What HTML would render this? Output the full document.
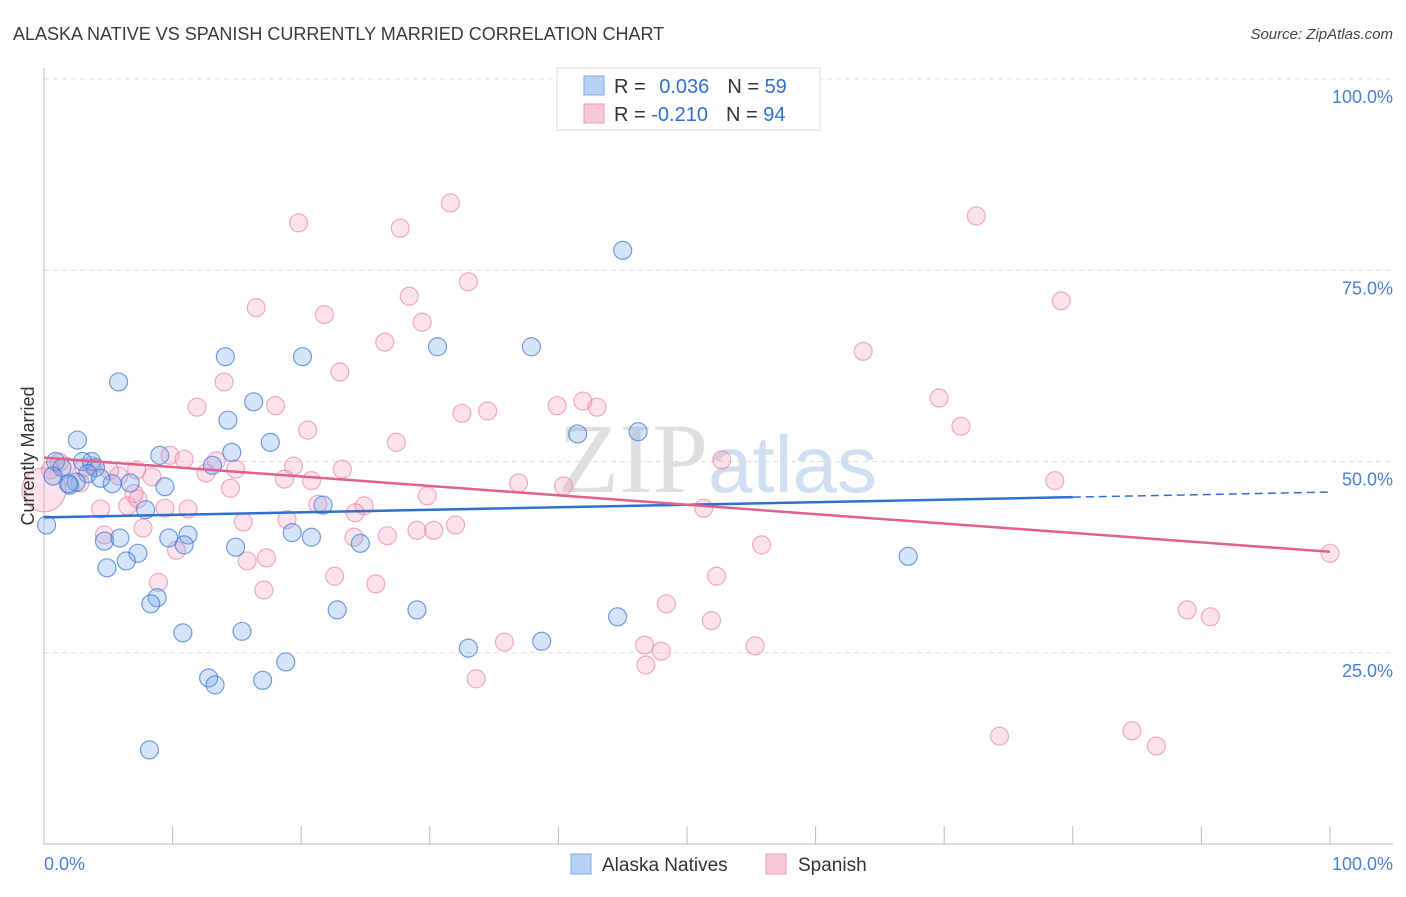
<!DOCTYPE html>
<html><head><meta charset="utf-8"><style>
body{margin:0;background:#fff;font-family:"Liberation Sans",sans-serif}
</style></head><body>
<svg id="c" width="1406" height="892" xmlns="http://www.w3.org/2000/svg" font-family="Liberation Sans, sans-serif">
<text x="13" y="40" font-size="18" fill="#3a3a3a">ALASKA NATIVE VS SPANISH CURRENTLY MARRIED CORRELATION CHART</text>
<text x="1393" y="39" font-size="15" fill="#444" font-style="italic" text-anchor="end">Source: ZipAtlas.com</text>
<text x="558" y="492" font-size="100" fill="#d8d8d8" font-family="Liberation Serif, serif" opacity="0.8">ZIP<tspan fill="#c5d8f0" font-family="Liberation Sans, sans-serif" font-size="80">atlas</tspan></text>
<g id="grid"></g>
<g id="axes"></g>
<g id="pts"></g>
<g id="lines"></g>
<text transform="translate(34,456) rotate(-90)" font-size="18" fill="#333" text-anchor="middle">Currently Married</text>
<g>
<rect x="557" y="68" width="263" height="62" fill="#fff" stroke="#ddd"/>
<rect x="584" y="76" width="20" height="19" fill="#b8d0f4" stroke="#7fa8e6"/>
<rect x="584" y="104" width="20" height="19" fill="#f9c8d6" stroke="#ee9ab3"/>
<text x="614" y="93" font-size="20" fill="#333">R = <tspan fill="#2f6fd0" dx="8">0.036</tspan><tspan dx="18" fill="#333">N = </tspan><tspan fill="#2f6fd0">59</tspan></text>
<text x="614" y="121" font-size="20" fill="#333">R = <tspan fill="#2f6fd0">-0.210</tspan><tspan dx="18" fill="#333">N = </tspan><tspan fill="#2f6fd0">94</tspan></text>
</g>
<g>
<rect x="571" y="854" width="20" height="20" fill="#b8d0f4" stroke="#7fa8e6"/>
<text x="602" y="871" font-size="19" fill="#333">Alaska Natives</text>
<rect x="766" y="854" width="20" height="20" fill="#f9c8d6" stroke="#ee9ab3"/>
<text x="798" y="871" font-size="19" fill="#333">Spanish</text>
</g>
</svg>
<script>
const yTicks=[25,50,75,100];
const yTickLabels=["25.0%","50.0%","75.0%","100.0%"];
const xTickLabels=["0.0%","100.0%"];
const blueX=[2.6,0.9,1.4,3.7,3.0,4.0,3.4,2.0,2.5,5.3,4.4,6.7,7.9,9.0,9.4,5.8,14.1,14.6,13.1,14.3,16.3,17.6,20.1,21.7,19.3,20.8,24.6,14.9,11.2,9.7,10.9,7.3,6.4,4.7,5.9,4.9,8.8,8.3,10.8,15.4,22.8,29.0,33.0,38.7,44.6,18.8,12.8,13.3,17.0,8.2,30.6,37.9,45.0,41.5,46.2,67.2,0.2,0.7,1.9];
const blueY=[52.8,50.0,49.2,50.0,50.0,49.2,48.4,46.9,47.3,47.1,47.8,47.2,43.7,50.8,46.7,60.4,63.7,51.2,49.5,55.4,57.8,52.5,63.7,44.3,40.7,40.1,39.3,38.8,40.4,40.0,39.1,38.0,37.0,39.6,40.0,36.1,32.2,31.4,27.6,27.8,30.6,30.6,25.6,26.5,29.7,23.8,21.7,20.8,21.4,12.3,65.0,65.0,77.6,53.6,53.9,37.6,41.7,48.1,47.1];
const pinkX=[19.8,31.6,27.7,72.5,79.1,33.0,28.4,16.5,21.8,29.4,26.5,23.0,14.0,63.7,11.9,18.0,32.5,34.5,39.9,41.9,43.0,69.6,71.3,20.5,27.4,9.8,10.9,13.4,12.6,14.9,19.4,20.8,23.2,18.7,8.4,5.8,7.2,2.8,52.7,78.6,40.4,36.9,14.5,29.8,21.3,24.9,24.2,4.4,6.5,9.4,11.2,7.3,7.0,4.7,7.7,15.5,18.9,24.1,26.7,29.0,30.3,32.0,51.3,55.8,10.3,15.8,17.3,8.9,22.6,25.8,17.1,52.3,48.4,51.9,35.8,46.7,48.0,46.8,55.3,33.6,88.9,90.7,74.3,84.6,86.5,100,3.1,1.7,5.1,3.7,0.5,1.2,0];
const pinkY=[81.2,83.8,80.5,82.1,71.0,73.5,71.6,70.1,69.2,68.2,65.6,61.7,60.4,64.4,57.1,57.3,56.3,56.6,57.3,57.9,57.1,58.3,54.6,54.1,52.5,50.8,50.3,50.1,48.5,49.0,49.4,47.5,49.0,47.7,48.0,48.1,48.9,47.2,50.2,47.5,46.8,47.2,46.5,45.5,44.4,44.2,43.3,43.8,44.2,43.9,43.8,45.1,45.8,40.4,41.3,42.1,42.4,40.1,40.3,41.0,41.0,41.7,43.9,39.1,38.4,37.0,37.4,34.2,35.0,34.0,33.2,35.0,31.4,29.2,26.4,26.0,25.2,23.4,25.9,21.6,30.6,29.7,14.1,14.8,12.8,38.0,49.2,49.4,48.8,49.5,48.9,49.9,46.3];
const blueTrend=[42.7,46.0];
const pinkTrend=[50.5,38.2];
const blueSolidEnd=80;
const NS='http://www.w3.org/2000/svg';
const X=v=>44+v*12.86, Y=v=>844-v*7.65;
function mk(t,a,p){const e=document.createElementNS(NS,t);for(const k in a)e.setAttribute(k,a[k]);document.getElementById(p).appendChild(e);return e;}
yTicks.forEach((t,i)=>{
 const g=mk('line',{x1:44,x2:1393,y1:Y(t),y2:Y(t),stroke:'#ddd','stroke-dasharray':'5,4'},'grid');
 
 
 const l=mk('text',{x:1393,y:Y(t)+24,'font-size':18,fill:'#4a7fd6','text-anchor':'end'},'grid');
 l.textContent=yTickLabels[i];
 
 
});
const ax=mk('line',{x1:44,x2:1393,y1:844,y2:844,stroke:'#bbb'},'axes');


const ay=mk('line',{x1:44,x2:44,y1:68,y2:844,stroke:'#bbb'},'axes');


for(let i=0;i<=10;i++){const t=mk('line',{x1:X(i*10),x2:X(i*10),y1:826,y2:844,stroke:'#bbb'},'axes');
 
 }
[[0,'start',44],[1,'end',1393]].forEach(([i,a,x])=>{const t=mk('text',{x:x,y:870,'font-size':18,fill:'#4a7fd6','text-anchor':a},'axes');t.textContent=xTickLabels[i];
 
 });
pinkX.forEach((x,i)=>{const big=(i===pinkX.length-1);
 const c=mk('circle',{cx:X(x),cy:Y(pinkY[i]),r:big?22:9,fill:'rgba(244,160,186,0.3)',stroke:'rgba(232,120,156,0.6)','stroke-width':1.2},'pts');
 
 });
blueX.forEach((x,i)=>{const c=mk('circle',{cx:X(x),cy:Y(blueY[i]),r:9,fill:'rgba(120,165,235,0.3)',stroke:'rgba(60,120,210,0.7)','stroke-width':1.2},'pts');
 
 });
const by=v=>blueTrend[0]+(blueTrend[1]-blueTrend[0])*v/100;
const b1=mk('line',{x1:X(0),y1:Y(by(0)),x2:X(blueSolidEnd),y2:Y(by(blueSolidEnd)),stroke:'#2f6fd0','stroke-width':2.5},'lines');


const b2=mk('line',{x1:X(blueSolidEnd),y1:Y(by(blueSolidEnd)),x2:X(100),y2:Y(by(100)),stroke:'#2f6fd0','stroke-width':1.5,'stroke-dasharray':'8,5'},'lines');


const p1=mk('line',{x1:X(0),y1:Y(pinkTrend[0]),x2:X(100),y2:Y(pinkTrend[1]),stroke:'#e0608f','stroke-width':2.5},'lines');


</script>
</body></html>
